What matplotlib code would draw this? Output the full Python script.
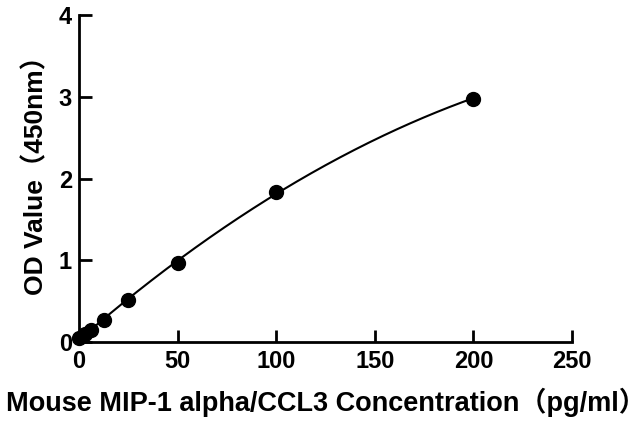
import numpy as np
import matplotlib
matplotlib.use("Agg")
import matplotlib.pyplot as plt

plt.rcParams['font.family'] = ['Liberation Sans', 'Noto Sans CJK SC', 'DejaVu Sans']

conc = [0, 3.125, 6.25, 12.5, 25, 50, 100, 200]
od = [0.05, 0.10, 0.15, 0.27, 0.52, 0.97, 1.84, 2.98]
xticks = [0, 50, 100, 150, 200, 250]
yticks = [0, 1, 2, 3, 4]

fig = plt.figure(figsize=(6.44, 4.21), dpi=100)
ax = fig.add_axes([0.1227, 0.1876, 0.7655, 0.7764])

coef = np.polyfit(conc, od, 2)
xs = np.linspace(0, 200, 300)
ax.plot(xs, np.polyval(coef, xs), color='black', lw=1.5, zorder=2)
ax.plot(conc, od, 'o', color='black', ms=10, zorder=3, clip_on=False)

ax.set_xlim(0, 250)
ax.set_ylim(0, 4)
ax.set_xticks(xticks)
ax.set_yticks(yticks)
for s in ['top', 'right']:
    ax.spines[s].set_visible(False)
for s in ['left', 'bottom']:
    ax.spines[s].set_linewidth(2)
ax.tick_params(direction='in', width=2, length=9, labelsize=17)
ax.tick_params(axis='x', pad=6)
ax.tick_params(axis='y', pad=5)
for lab in ax.get_xticklabels() + ax.get_yticklabels():
    lab.set_fontweight('bold')

ax.set_xlabel('Mouse MIP-1 alpha/CCL3 Concentration（pg/ml）', fontsize=19.5, fontweight='bold', labelpad=10)
ax.set_ylabel('OD Value（450nm）', fontsize=19, fontweight='bold')
ax.yaxis.set_label_coords(-0.062, 0.53)

fig.savefig('out.png', dpi=100)
